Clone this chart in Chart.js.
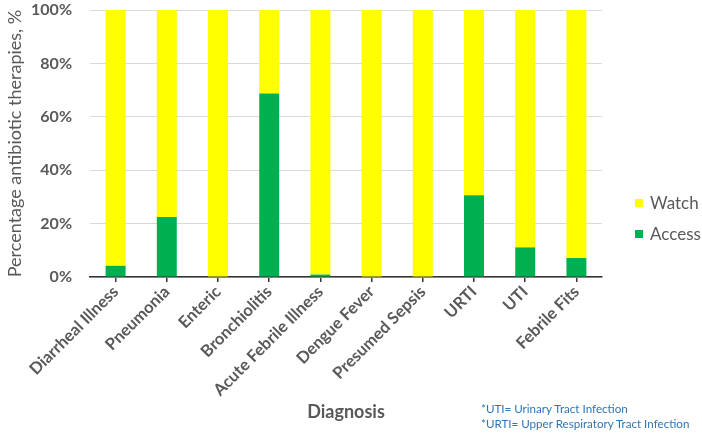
<!DOCTYPE html>
<html>
<head>
<meta charset="utf-8">
<script src="https://cdn.jsdelivr.net/npm/chart.js@4"></script>
<style>
  html, body { margin: 0; padding: 0; background: #fff; }
  #wrap { position: relative; width: 702px; height: 436px; }
  canvas { display: block; }
  .note { position: absolute; left: 481px; font-family: Lato, "Liberation Sans", sans-serif; font-size: 11.6px; color: #2E75B6; white-space: nowrap; }
</style>
</head>
<body>
<div id="wrap">
  <canvas id="c" width="702" height="436"></canvas>
  <div class="note" style="top:402px">*UTI= Urinary Tract Infection</div>
  <div class="note" style="top:417px">*URTI= Upper Respiratory Tract Infection</div>
</div>
<script>
const categories = ["Diarrheal Illness", "Pneumonia", "Enteric", "Bronchiolitis", "Acute Febrile Illness", "Dengue Fever", "Presumed Sepsis", "URTI", "UTI", "Febrile Fits"];
const accessValues = [4.2, 22.5, 0, 68.7, 0.9, 0, 0, 30.6, 11.1, 7.1];
const watchValues = [95.8, 77.5, 100, 31.3, 99.1, 100, 100, 69.4, 88.9, 92.9];
const yTicks = [0, 20, 40, 60, 80, 100];

const GREY = "#595959";
const FONT = "Lato, 'Liberation Sans', sans-serif";

const legendPlugin = {
  id: "customLegend",
  afterDraw(chart) {
    const ctx = chart.ctx;
    const items = [chart.data.datasets[1], chart.data.datasets[0]];
    const ys = [203, 234];
    ctx.save();
    ctx.font = "17px " + FONT;
    ctx.textBaseline = "middle";
    items.forEach((ds, i) => {
      ctx.fillStyle = ds.backgroundColor;
      ctx.fillRect(635, ys[i] - 4, 8, 8);
      ctx.fillStyle = GREY;
      ctx.fillText(ds.label, 650, ys[i] + 1);
    });
    ctx.restore();
  }
};

new Chart(document.getElementById("c"), {
  type: "bar",
  data: {
    labels: categories,
    datasets: [
      { label: "Access", data: accessValues, backgroundColor: "#00B050", barPercentage: 0.39, categoryPercentage: 1 },
      { label: "Watch", data: watchValues, backgroundColor: "#FFFF00", barPercentage: 0.39, categoryPercentage: 1 }
    ]
  },
  options: {
    responsive: false,
    animation: false,
    devicePixelRatio: 1,
    layout: { padding: { left: 0, right: 100, top: 10, bottom: 0 } },
    plugins: { legend: { display: false }, tooltip: { enabled: false } },
    scales: {
      x: {
        stacked: true,
        afterFit(s) { s.height = 159; s.paddingLeft = 0; s.paddingRight = 0; },
        grid: { display: true, drawOnChartArea: false, offset: false, color: "#333", tickLength: 5, lineWidth: 1.5 },
        border: { display: true, color: "#333", width: 1.5 },
        ticks: { color: GREY, font: { family: FONT, size: 16.5, weight: "bold" }, minRotation: 45, maxRotation: 45, autoSkip: false, padding: 0 },
        title: { display: true, text: "Diagnosis", color: GREY, font: { family: FONT, size: 18, weight: "bold" }, padding: { top: 0, bottom: 13 } }
      },
      y: {
        stacked: true,
        min: 0, max: 100,
        afterFit(s) { s.width = 90; s.paddingTop = 0; s.paddingBottom = 0; },
        afterBuildTicks(s) { s.ticks = yTicks.map(v => ({ value: v })); },
        grid: { color: "#D9D9D9", lineWidth: 1, drawTicks: false },
        border: { display: false },
        ticks: { color: GREY, font: { family: FONT, size: 16, weight: "bold" }, padding: 18, callback: v => v + "%" },
        title: { display: true, text: "Percentage antibiotic therapies, %", color: GREY, font: { family: FONT, size: 18 }, padding: { top: 4, bottom: 0 } }
      }
    }
  },
  plugins: [legendPlugin]
});
</script>
</body>
</html>
